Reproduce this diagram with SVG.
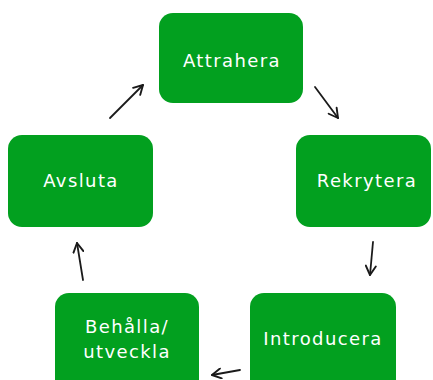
<svg xmlns="http://www.w3.org/2000/svg" width="433" height="380" viewBox="0 0 433 380">
<style>
.box{fill:#02a01f;}
.lbl{fill:#ffffff;font-family:"DejaVu Sans",Verdana,sans-serif;font-size:18px;letter-spacing:1.4px;text-anchor:middle;}
.arr{fill:none;stroke:#1a1a1a;stroke-width:1.8;stroke-linecap:round;marker-end:url(#ah);}
</style>
<defs>
<marker id="ah" viewBox="0 0 12 12" refX="10.5" refY="6" markerWidth="12" markerHeight="12" markerUnits="userSpaceOnUse" orient="auto">
<polyline points="1.5,1 10.5,6 1.5,11" fill="none" stroke="#1a1a1a" stroke-width="1.9" stroke-linecap="round" stroke-linejoin="round"/>
</marker>
</defs>
<rect width="433" height="380" fill="#ffffff"/>
<g id="attrahera"><rect class="box" x="159" y="13" width="144" height="90" rx="14"/><text class="lbl" x="232" y="67">Attrahera</text></g>
<g id="rekrytera"><rect class="box" x="296" y="135" width="135" height="92" rx="14"/><text class="lbl" x="367" y="187">Rekrytera</text></g>
<g id="introducera"><rect class="box" x="250" y="293" width="146" height="100" rx="14"/><text class="lbl" x="323" y="345">Introducera</text></g>
<g id="behalla"><rect class="box" x="55" y="293" width="144" height="100" rx="14"/><text class="lbl" x="127" y="333">Behålla/</text><text class="lbl" x="127" y="358">utveckla</text></g>
<g id="avsluta"><rect class="box" x="8" y="135" width="145" height="92" rx="14"/><text class="lbl" x="81" y="187">Avsluta</text></g>
<g id="connectors">
<path class="arr" d="M110,118 L143,85"/>
<path class="arr" d="M315,87 L338,118"/>
<path class="arr" d="M373,242 L370,275"/>
<path class="arr" d="M240,370 L212,375"/>
<path class="arr" d="M83,280 L77,243"/>
</g>
</svg>
